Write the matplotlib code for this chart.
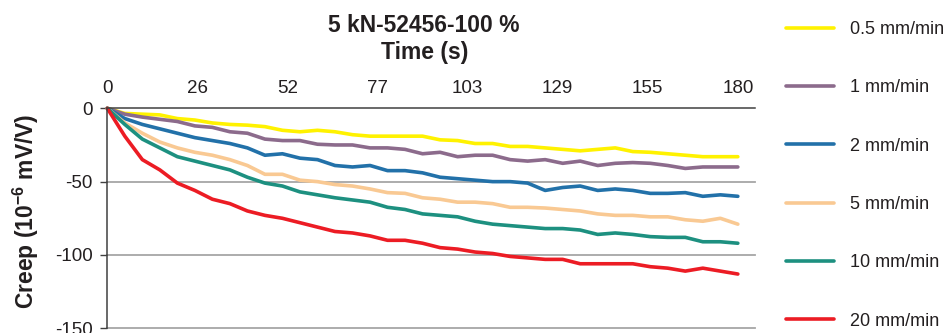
import numpy as np
import matplotlib
matplotlib.use("Agg")
import matplotlib.pyplot as plt

plt.rcParams['font.family'] = ['Liberation Sans', 'DejaVu Sans']
plt.rcParams['mathtext.default'] = 'regular'
plt.rcParams['axes.unicode_minus'] = False

# time (s)
time_s = [0, 5, 10, 15, 20, 25, 30, 35, 40, 45, 50, 55, 60, 65, 70, 75, 80, 85,
          90, 95, 100, 105, 110, 115, 120, 125, 130, 135, 140, 145, 150, 155,
          160, 165, 170, 175, 180]

# creep (10^-6 mV/V) per crosshead speed
creep_05 = [0, -3.5, -4, -4.5, -7, -8, -10, -11, -11.5, -12.5, -15, -16, -15, -16,
            -18, -19, -19, -19, -19, -21.5, -22, -24, -24, -26, -26, -27, -28,
            -29, -28, -27, -29.5, -30, -31, -32, -33, -33, -33]
creep_1 = [0, -4, -6, -7.5, -9, -12, -13, -16, -17, -21, -22, -22, -24.5, -25,
           -25, -27, -27, -28, -31, -30, -33, -32, -32, -35, -36, -35, -37.5,
           -36, -39, -37.5, -37, -37.5, -39, -41, -40, -40, -40]
creep_2 = [0, -7, -11, -14, -17, -20, -22, -24, -27, -32, -31, -34, -35, -39,
           -40, -39, -42.5, -42.5, -44, -47, -48, -49, -50, -50, -51, -56, -54,
           -53, -56, -55, -56, -58, -58, -57.5, -60, -59, -60]
creep_5 = [0, -10, -17, -23, -27, -30, -32, -35, -39, -45, -45, -49, -50, -52,
           -53, -55, -57.5, -58, -61, -62, -64, -64, -65, -67.5, -67.5, -68, -69,
           -70, -72, -73, -73, -74, -74, -76, -77, -75, -79]
creep_10 = [0, -11, -21, -27, -33, -36, -39, -42, -47, -51, -53, -57, -59, -61,
            -62.5, -64, -67.5, -69, -72, -73, -74, -77, -79, -80, -81, -82, -82,
            -83, -86, -85, -86, -87.5, -88, -88, -91, -91, -92]
creep_20 = [0, -19, -35, -42, -51, -56, -62, -65, -70, -73, -75, -78, -81, -84,
            -85, -87, -90, -90, -92, -95, -96, -98, -99, -101, -102, -103, -103,
            -106, -106, -106, -106, -108, -109, -111, -109, -111, -113]

labels = ['0.5 mm/min', '1 mm/min', '2 mm/min', '5 mm/min', '10 mm/min', '20 mm/min']
colors = ['#FFF200', '#8C6B8C', '#2271A9', '#F9C993', '#1D9080', '#EC1C24']
x_tick_labels = ['0', '26', '52', '77', '103', '129', '155', '180']
y_ticks = [0, -50, -100, -150]

series = [creep_05, creep_1, creep_2, creep_5, creep_10, creep_20]

text_col = '#231F20'

fig = plt.figure(figsize=(9.45, 3.33), dpi=100)
ax = fig.add_axes([107.3 / 945, 1 - 328.3 / 333, (755 - 107.3) / 945, (328.3 - 108.3) / 333])

lines = []
for vals, lab, col in zip(series, labels, colors):
    ln, = ax.plot(time_s, vals, color=col, lw=2.6, label=lab,
                  solid_joinstyle='round', solid_capstyle='round', clip_on=False)
    lines.append(ln)

ax.set_xlim(0, 184.9)
ax.set_ylim(-150, 0)

ax.xaxis.tick_top()
ax.set_xticks(np.arange(len(x_tick_labels)) * 180 / 7)
ax.set_xticklabels(x_tick_labels)
ax.tick_params(axis='x', length=0, pad=8, labelsize=13.5, labelcolor=text_col)

ax.set_yticks(y_ticks)
ax.tick_params(axis='y', direction='out', length=5, width=1, color='#404040',
               pad=5.5, labelsize=13.5, labelcolor=text_col)

for s in ['right', 'bottom']:
    ax.spines[s].set_visible(False)
for s in ['top', 'left']:
    ax.spines[s].set_color('#404040')
    ax.spines[s].set_linewidth(1.1)

for v in y_ticks[1:]:
    ax.axhline(v, color='#A6A6A6', lw=1.3, zorder=0, clip_on=False)

fig.text(424 / 945, 1 - 25 / 333, '5 kN-52456-100 %', ha='center', va='center',
         fontsize=16.5, fontweight='bold', color=text_col)
fig.text(425 / 945, 1 - 52 / 333, 'Time (s)', ha='center', va='center',
         fontsize=16.5, fontweight='bold', color=text_col)
fig.text(26 / 945, 1 - 211 / 333, r'Creep (10$^{-6}$ mV/V)', ha='center', va='center',
         rotation=90, fontsize=16.5, fontweight='bold', color=text_col)

fig.legend(handles=lines, loc='upper left', bbox_to_anchor=(786 / 945, 1 - 21 / 333),
           frameon=False, fontsize=13, handlelength=2.67, handletextpad=0.89,
           labelspacing=2.29, borderaxespad=0, borderpad=0, labelcolor=text_col)

fig.savefig('out.png', dpi=100)
